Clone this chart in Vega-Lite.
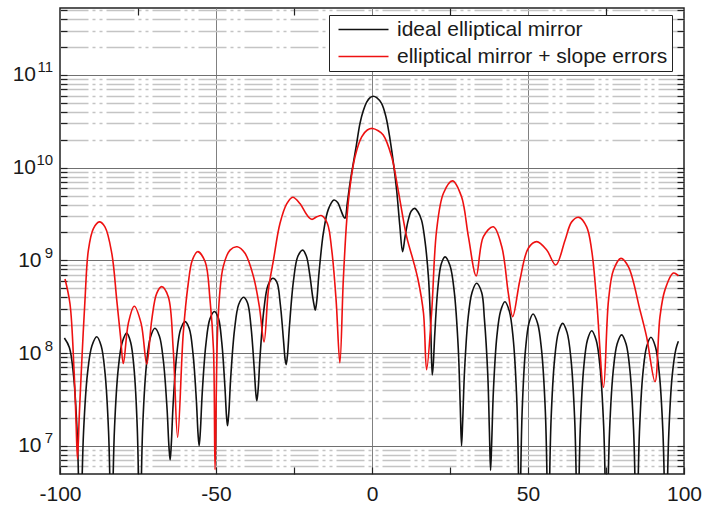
{
  "$schema": "https://vega.github.io/schema/vega-lite/v6.json",
  "width": 624,
  "height": 466,
  "autosize": "none",
  "padding": {"left": 60, "top": 8, "right": 38, "bottom": 34},
  "background": "white",
  "config": {
    "view": {"stroke": "#222222", "strokeWidth": 1.5},
    "font": "Liberation Sans",
    "axis": {"labelFont": "Liberation Sans", "labelColor": "#1a1a1a", "domain": false, "title": null, "tickColor": "#222222", "tickWidth": 1.2}
  },
  "datasets": {
    "ideal": [
      {"x": -98.6, "y": 1.45e8}, {"x": -97.0, "y": 1.15e8}, {"x": -95.7, "y": 5.9e7}, {"x": -94.5, "y": 1.38e7}, {"x": -93.9, "y": 2.3e6}, {"x": -93.5, "y": 3e5},
      {"x": -93.08, "y": 2.4e6}, {"x": -92.44, "y": 1.43e7}, {"x": -91.17, "y": 6.1e7}, {"x": -89.79, "y": 1.19e8}, {"x": -88.2, "y": 1.5e8}, {"x": -86.79, "y": 1.19e8}, {"x": -85.57, "y": 6.1e7}, {"x": -84.44, "y": 1.43e7}, {"x": -83.88, "y": 2.4e6}, {"x": -83.5, "y": 3e5},
      {"x": -83.11, "y": 2.6e6}, {"x": -82.52, "y": 1.57e7}, {"x": -81.34, "y": 6.7e7}, {"x": -80.07, "y": 1.3e8}, {"x": -78.6, "y": 1.64e8}, {"x": -77.34, "y": 1.3e8}, {"x": -76.25, "y": 6.7e7}, {"x": -75.24, "y": 1.57e7}, {"x": -74.74, "y": 2.6e6}, {"x": -74.4, "y": 3e5},
      {"x": -74.02, "y": 2.9e6}, {"x": -73.44, "y": 1.77e7}, {"x": -72.29, "y": 7.5e7}, {"x": -71.04, "y": 1.47e8}, {"x": -69.6, "y": 1.85e8}, {"x": -68.13, "y": 1.52e8}, {"x": -66.86, "y": 8.2e7}, {"x": -65.68, "y": 2.47e7}, {"x": -65.09, "y": 9.9e6}, {"x": -64.7, "y": 7e6},
      {"x": -64.32, "y": 1.05e7}, {"x": -63.74, "y": 2.8e7}, {"x": -62.59, "y": 9.6e7}, {"x": -61.34, "y": 1.8e8}, {"x": -59.9, "y": 2.18e8}, {"x": -58.55, "y": 1.83e8}, {"x": -57.38, "y": 9.9e7}, {"x": -56.3, "y": 3.1e7}, {"x": -55.76, "y": 1.35e7}, {"x": -55.4, "y": 1e7},
      {"x": -55.01, "y": 1.44e7}, {"x": -54.42, "y": 3.67e7}, {"x": -53.24, "y": 1.24e8}, {"x": -51.97, "y": 2.32e8}, {"x": -50.5, "y": 2.8e8}, {"x": -49.24, "y": 2.38e8}, {"x": -48.15, "y": 1.3e8}, {"x": -47.14, "y": 4.3e7}, {"x": -46.64, "y": 2.1e7}, {"x": -46.3, "y": 1.64e7},
      {"x": -45.89, "y": 2.27e7}, {"x": -45.28, "y": 5.46e7}, {"x": -44.06, "y": 1.79e8}, {"x": -42.73, "y": 3.34e8}, {"x": -41.2, "y": 4.0e8}, {"x": -39.91, "y": 3.49e8}, {"x": -38.79, "y": 1.94e8}, {"x": -37.76, "y": 6.87e7}, {"x": -37.24, "y": 3.7e7}, {"x": -36.9, "y": 3.05e7},
      {"x": -36.49, "y": 4.06e7}, {"x": -35.88, "y": 9.15e7}, {"x": -34.66, "y": 2.92e8}, {"x": -33.33, "y": 5.39e8}, {"x": -31.8, "y": 6.4e8}, {"x": -30.51, "y": 5.83e8}, {"x": -29.39, "y": 3.36e8}, {"x": -28.36, "y": 1.36e8}, {"x": -27.84, "y": 8.5e7}, {"x": -27.5, "y": 7.5e7},
      {"x": -27.08, "y": 9.55e7}, {"x": -26.44, "y": 1.98e8}, {"x": -25.17, "y": 6.0e8}, {"x": -23.79, "y": 1.1e9}, {"x": -22.2, "y": 1.29e9}, {"x": -21.0, "y": 1.1e9}, {"x": -19.95, "y": 7e8}, {"x": -19.0, "y": 4e8}, {"x": -18.5, "y": 3.2e8}, {"x": -18.2, "y": 2.9e8},
      {"x": -17.72, "y": 3.6e8}, {"x": -17.0, "y": 7.2e8}, {"x": -15.56, "y": 2.0e9}, {"x": -14.0, "y": 3.55e9}, {"x": -12.2, "y": 4.47e9}, {"x": -11.0, "y": 4.2e9}, {"x": -10.0, "y": 3.5e9}, {"x": -9.2, "y": 3.0e9}, {"x": -8.65, "y": 2.84e9},
      {"x": -7.9, "y": 4.2e9}, {"x": -7.0, "y": 7.0e9}, {"x": -6.0, "y": 1.11e10}, {"x": -5.0, "y": 1.75e10}, {"x": -3.85, "y": 3.0e10}, {"x": -2.8, "y": 4.1e10}, {"x": -1.7, "y": 5.1e10}, {"x": -0.6, "y": 5.7e10}, {"x": 0.4, "y": 5.9e10}, {"x": 1.5, "y": 5.7e10}, {"x": 3.1, "y": 4.9e10}, {"x": 4.5, "y": 3.5e10}, {"x": 5.8, "y": 2.0e10}, {"x": 6.9, "y": 1.1e10}, {"x": 7.9, "y": 5.7e9}, {"x": 8.9, "y": 2.4e9}, {"x": 9.8, "y": 1.24e9},
      {"x": 10.6, "y": 1.8e9}, {"x": 11.6, "y": 2.7e9}, {"x": 12.6, "y": 3.4e9}, {"x": 13.7, "y": 3.64e9}, {"x": 14.8, "y": 3.3e9}, {"x": 15.9, "y": 2.7e9}, {"x": 17.0, "y": 1.6e9}, {"x": 18.1, "y": 6.5e8}, {"x": 18.8, "y": 2.0e8}, {"x": 19.3, "y": 5.8e7},
      {"x": 19.63, "y": 7.5e7}, {"x": 20.12, "y": 1.6e8}, {"x": 21.1, "y": 5.0e8}, {"x": 22.17, "y": 9.1e8}, {"x": 23.4, "y": 1.09e9}, {"x": 24.99, "y": 8.8e8}, {"x": 26.37, "y": 4.56e8}, {"x": 27.64, "y": 1.14e8}, {"x": 28.28, "y": 2.7e7}, {"x": 28.7, "y": 1e7},
      {"x": 29.08, "y": 1.9e7}, {"x": 29.66, "y": 6.4e7}, {"x": 30.81, "y": 2.4e8}, {"x": 32.06, "y": 4.5e8}, {"x": 33.5, "y": 5.65e8}, {"x": 35.15, "y": 4.5e8}, {"x": 36.02, "y": 2.35e8}, {"x": 37.1, "y": 5.9e7}, {"x": 37.64, "y": 1.4e7}, {"x": 38.0, "y": 5.4e6},
      {"x": 38.37, "y": 1.1e7}, {"x": 38.92, "y": 3.95e7}, {"x": 40.02, "y": 1.51e8}, {"x": 41.22, "y": 2.84e8}, {"x": 42.6, "y": 3.57e8}, {"x": 44.01, "y": 2.84e8}, {"x": 45.23, "y": 1.46e8}, {"x": 46.36, "y": 3.41e7}, {"x": 46.92, "y": 5.66e6}, {"x": 47.3, "y": 3e5},
      {"x": 47.64, "y": 4.19e6}, {"x": 48.16, "y": 2.52e7}, {"x": 49.19, "y": 1.08e8}, {"x": 50.31, "y": 2.1e8}, {"x": 51.6, "y": 2.64e8}, {"x": 53.07, "y": 2.1e8}, {"x": 54.34, "y": 1.08e8}, {"x": 55.52, "y": 2.52e7}, {"x": 56.11, "y": 4.19e6}, {"x": 56.5, "y": 3e5},
      {"x": 56.87, "y": 3.31e6}, {"x": 57.42, "y": 2.0e7}, {"x": 58.52, "y": 8.5e7}, {"x": 59.72, "y": 1.66e8}, {"x": 61.1, "y": 2.09e8}, {"x": 62.54, "y": 1.66e8}, {"x": 63.79, "y": 8.5e7}, {"x": 64.94, "y": 2.0e7}, {"x": 65.52, "y": 3.31e6}, {"x": 65.9, "y": 3e5},
      {"x": 66.26, "y": 2.76e6}, {"x": 66.8, "y": 1.66e7}, {"x": 67.88, "y": 7.1e7}, {"x": 69.05, "y": 1.38e8}, {"x": 70.4, "y": 1.74e8}, {"x": 71.84, "y": 1.38e8}, {"x": 73.09, "y": 7.1e7}, {"x": 74.24, "y": 1.66e7}, {"x": 74.82, "y": 2.76e6}, {"x": 75.2, "y": 3e5},
      {"x": 75.58, "y": 2.49e6}, {"x": 76.16, "y": 1.5e7}, {"x": 77.31, "y": 6.4e7}, {"x": 78.56, "y": 1.25e8}, {"x": 80.0, "y": 1.57e8}, {"x": 81.44, "y": 1.25e8}, {"x": 82.69, "y": 6.4e7}, {"x": 83.84, "y": 1.5e7}, {"x": 84.42, "y": 2.49e6}, {"x": 84.8, "y": 3e5},
      {"x": 85.17, "y": 2.34e6}, {"x": 85.72, "y": 1.41e7}, {"x": 86.82, "y": 6.0e7}, {"x": 88.02, "y": 1.17e8}, {"x": 89.4, "y": 1.48e8}, {"x": 90.84, "y": 1.17e8}, {"x": 92.09, "y": 6.0e7}, {"x": 93.24, "y": 1.41e7}, {"x": 93.82, "y": 2.34e6}, {"x": 94.2, "y": 3e5},
      {"x": 94.57, "y": 2.2e6}, {"x": 95.12, "y": 1.34e7}, {"x": 96.22, "y": 5.7e7}, {"x": 97.42, "y": 1.11e8}, {"x": 98.2, "y": 1.34e8}
    ],
    "slope": [
      {"x": -98.4, "y": 6.3e8}, {"x": -96.8, "y": 3.4e8}, {"x": -95.5, "y": 6.5e7}, {"x": -94.9, "y": 2.0e7}, {"x": -94.4, "y": 7.2e6}, {"x": -93.8, "y": 2.2e7}, {"x": -93.1, "y": 7.1e7}, {"x": -92.0, "y": 3.7e8}, {"x": -90.9, "y": 1.29e9}, {"x": -89.3, "y": 2.2e9}, {"x": -87.4, "y": 2.6e9}, {"x": -85.6, "y": 2.3e9}, {"x": -83.4, "y": 1.19e9}, {"x": -81.8, "y": 3.7e8}, {"x": -80.6, "y": 1.5e8}, {"x": -79.7, "y": 7.7e7},
      {"x": -78.1, "y": 2.09e8}, {"x": -76.2, "y": 3.2e8}, {"x": -74.0, "y": 2.09e8}, {"x": -72.2, "y": 7.6e7}, {"x": -70.6, "y": 2.27e8}, {"x": -69.0, "y": 4.4e8}, {"x": -67.4, "y": 5.2e8}, {"x": -65.3, "y": 4.05e8}, {"x": -63.7, "y": 1.08e8}, {"x": -62.3, "y": 1.23e7},
      {"x": -60.5, "y": 1.62e8}, {"x": -58.9, "y": 5.6e8}, {"x": -57.6, "y": 1.0e9}, {"x": -55.9, "y": 1.24e9}, {"x": -53.5, "y": 9.7e8}, {"x": -51.9, "y": 3.7e8}, {"x": -50.8, "y": 1.08e8}, {"x": -50.3, "y": 5.5e6},
      {"x": -49.3, "y": 2.46e8}, {"x": -47.7, "y": 8.5e8}, {"x": -45.5, "y": 1.29e9}, {"x": -43.2, "y": 1.4e9}, {"x": -40.7, "y": 1.19e9}, {"x": -38.0, "y": 6.7e8}, {"x": -36.1, "y": 3.16e8}, {"x": -34.6, "y": 1.32e8},
      {"x": -33.2, "y": 4.8e8}, {"x": -31.6, "y": 1.0e9}, {"x": -29.5, "y": 2.5e9}, {"x": -27.3, "y": 4.1e9}, {"x": -25.4, "y": 4.8e9}, {"x": -23.1, "y": 4.1e9}, {"x": -20.9, "y": 3.1e9}, {"x": -19.3, "y": 2.77e9}, {"x": -17.7, "y": 2.95e9}, {"x": -16.1, "y": 3.03e9}, {"x": -14.3, "y": 2.5e9}, {"x": -12.9, "y": 1.29e9}, {"x": -11.5, "y": 3.7e8}, {"x": -10.3, "y": 7.85e7},
      {"x": -9.2, "y": 6.1e8}, {"x": -8.1, "y": 2.7e9}, {"x": -7.05, "y": 6.2e9}, {"x": -5.45, "y": 1.31e10}, {"x": -3.3, "y": 2.15e10}, {"x": -1.5, "y": 2.55e10}, {"x": 0.2, "y": 2.65e10}, {"x": 2.0, "y": 2.5e10}, {"x": 3.6, "y": 2.25e10}, {"x": 6.3, "y": 1.31e10}, {"x": 8.4, "y": 5.7e9}, {"x": 11.1, "y": 1.8e9}, {"x": 13.2, "y": 1.0e9}, {"x": 14.8, "y": 6.1e8}, {"x": 16.5, "y": 2.7e8}, {"x": 17.5, "y": 6.6e7},
      {"x": 19.1, "y": 2.7e8}, {"x": 20.7, "y": 2.1e9}, {"x": 22.9, "y": 5.3e9}, {"x": 25.8, "y": 7.2e9}, {"x": 28.7, "y": 4.85e9}, {"x": 30.9, "y": 1.8e9}, {"x": 33.4, "y": 6.8e8}, {"x": 35.7, "y": 1.8e9}, {"x": 38.9, "y": 2.3e9}, {"x": 41.6, "y": 1.4e9}, {"x": 43.7, "y": 4.4e8}, {"x": 45.1, "y": 2.47e8},
      {"x": 47.4, "y": 6.1e8}, {"x": 50.1, "y": 1.35e9}, {"x": 52.8, "y": 1.59e9}, {"x": 56.0, "y": 1.29e9}, {"x": 58.9, "y": 8.9e8}, {"x": 61.9, "y": 1.66e9}, {"x": 64.0, "y": 2.6e9}, {"x": 66.3, "y": 2.91e9}, {"x": 68.8, "y": 2.3e9}, {"x": 70.4, "y": 1.29e9}, {"x": 72.0, "y": 3.7e8}, {"x": 74.2, "y": 4.27e7},
      {"x": 75.8, "y": 3.7e8}, {"x": 77.4, "y": 7.85e8}, {"x": 79.8, "y": 1.05e9}, {"x": 82.2, "y": 8.5e8}, {"x": 85.9, "y": 2.9e8}, {"x": 88.0, "y": 1.5e8}, {"x": 90.7, "y": 4.9e7}, {"x": 92.3, "y": 2.47e8}, {"x": 93.9, "y": 4.8e8}, {"x": 96.6, "y": 7.3e8}, {"x": 98.2, "y": 6.8e8}
    ]
  },
  "layer": [
    {
      "data": {"name": "ideal"},
      "mark": {"type": "line", "interpolate": "catmull-rom", "clip": true, "strokeWidth": 1.6},
      "encoding": {
        "x": {"field": "x", "type": "quantitative", "scale": {"domain": [-100, 100], "nice": false, "zero": false},
          "axis": {"orient": "bottom", "values": [-100, -75, -50, -25, 0, 25, 50, 75, 100],
            "labelExpr": "datum.value % 50 == 0 ? '' + datum.value : ''",
            "labelFontSize": 21, "labelPadding": 16, "labelFlush": false,
            "grid": true, "gridColor": "#808080", "gridWidth": 1,
            "gridOpacity": {"condition": {"test": "datum.value % 50 != 0 || abs(datum.value) == 100", "value": 0}, "value": 1},
            "tickSize": -7}},
        "y": {"field": "y", "type": "quantitative", "scale": {"type": "log", "domain": [4.95e6, 5.28e11], "nice": false},
          "axis": {"orient": "left",
            "values": [6e6, 7e6, 8e6, 9e6, 1e7, 2e7, 3e7, 4e7, 5e7, 6e7, 7e7, 8e7, 9e7, 1e8, 2e8, 3e8, 4e8, 5e8, 6e8, 7e8, 8e8, 9e8, 1e9, 2e9, 3e9, 4e9, 5e9, 6e9, 7e9, 8e9, 9e9, 1e10, 2e10, 3e10, 4e10, 5e10, 6e10, 7e10, 8e10, 9e10, 1e11, 2e11, 3e11, 4e11, 5e11],
            "labelExpr": "abs(log(datum.value)/LN10 - round(log(datum.value)/LN10)) < 0.0001 ? '10' : ''",
            "labelFontSize": 21, "labelBaseline": "middle",
            "labelPadding": {"condition": {"test": "datum.value > 5e9", "value": 31.5}, "value": 26},
            "grid": true,
            "gridColor": {"condition": {"test": "abs(log(datum.value)/LN10 - round(log(datum.value)/LN10)) < 0.0001", "value": "#707070"}, "value": "#c4c4c4"},
            "gridDash": {"condition": {"test": "abs(log(datum.value)/LN10 - round(log(datum.value)/LN10)) < 0.0001", "value": []}, "value": [28, 4, 3, 4, 3, 4]},
            "gridWidth": {"condition": {"test": "abs(log(datum.value)/LN10 - round(log(datum.value)/LN10)) < 0.0001", "value": 1}, "value": 1.3},
            "tickSize": -7}},
        "color": {"datum": "ideal elliptical mirror", "type": "nominal",
          "scale": {"domain": ["ideal elliptical mirror", "elliptical mirror + slope errors"], "range": ["#111111", "#ee1111"]},
          "legend": {"orient": "none", "legendX": 269, "legendY": 7, "title": null, "strokeColor": "#222222", "fillColor": "white", "padding": 4,
            "symbolType": "M-1,0L9,0", "symbolSize": 100, "symbolStrokeWidth": 1.6, "labelFontSize": 21, "labelColor": "#1a1a1a", "labelFont": "Liberation Sans", "labelOffset": 43, "labelLimit": 600, "rowPadding": 5}}
      }
    },
    {
      "data": {"name": "slope"},
      "mark": {"type": "line", "interpolate": "catmull-rom", "clip": true, "strokeWidth": 1.6},
      "encoding": {
        "x": {"field": "x", "type": "quantitative", "scale": {"domain": [-100, 100], "nice": false, "zero": false},
          "axis": {"orient": "top", "values": [-75, -25, 25, 75], "labels": false, "grid": false, "tickSize": -7}},
        "y": {"field": "y", "type": "quantitative", "scale": {"type": "log", "domain": [4.95e6, 5.28e11], "nice": false},
          "axis": {"orient": "left", "values": [1e7, 1e8, 1e9, 1e10, 1e11],
            "labelExpr": "'' + round(log(datum.value)/LN10)",
            "labelFontSize": 15, "labelBaseline": "middle", "labelOffset": -8, "labelPadding": 14.3,
            "grid": false, "tickSize": -7, "tickOpacity": 0}},
        "color": {"datum": "elliptical mirror + slope errors", "type": "nominal"}
      }
    },
    {
      "data": {"name": "slope"},
      "mark": {"type": "line", "opacity": 0, "clip": true},
      "encoding": {
        "x": {"field": "x", "type": "quantitative", "scale": {"domain": [-100, 100], "nice": false, "zero": false}, "axis": null},
        "y": {"field": "y", "type": "quantitative", "scale": {"type": "log", "domain": [4.95e6, 5.28e11], "nice": false},
          "axis": {"orient": "right",
            "values": [6e6, 7e6, 8e6, 9e6, 1e7, 2e7, 3e7, 4e7, 5e7, 6e7, 7e7, 8e7, 9e7, 1e8, 2e8, 3e8, 4e8, 5e8, 6e8, 7e8, 8e8, 9e8, 1e9, 2e9, 3e9, 4e9, 5e9, 6e9, 7e9, 8e9, 9e9, 1e10, 2e10, 3e10, 4e10, 5e10, 6e10, 7e10, 8e10, 9e10, 1e11, 2e11, 3e11, 4e11, 5e11],
            "labels": false, "grid": false, "tickSize": -7}}
      }
    }
  ],
  "resolve": {"axis": {"x": "independent", "y": "independent"}}
}
